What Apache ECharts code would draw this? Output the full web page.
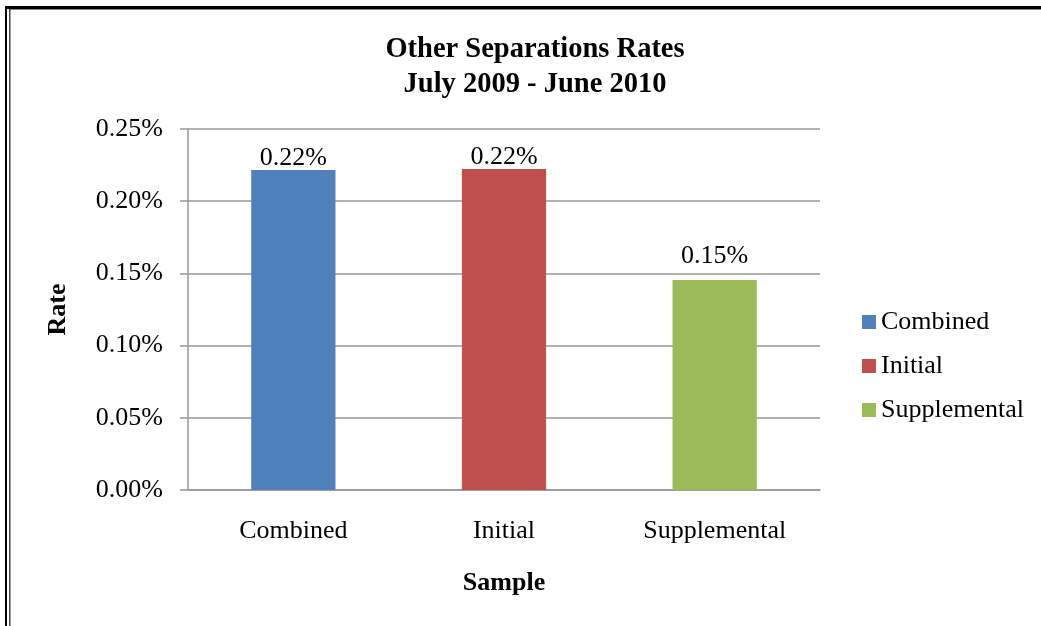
<!DOCTYPE html>
<html>
<head>
<meta charset="utf-8">
<title>Other Separations Rates</title>
<script src="https://cdn.jsdelivr.net/npm/echarts@6/dist/echarts.min.js"></script>
<style>
  html, body { margin: 0; padding: 0; background: #ffffff; }
  #chart { width: 1041px; height: 626px; }
</style>
</head>
<body>
<div id="chart"></div>
<script>
// Sample groups and their other-separations rates (percent)
const categories = ['Combined', 'Initial', 'Supplemental'];
const rates = [0.2216, 0.2223, 0.1455];
const barColors = ['#4F81BD', '#C0504D', '#9BBB59'];
const yTicks = { min: 0, max: 0.25, interval: 0.05 };

const FONT = '"Liberation Serif", "Times New Roman", serif';

// One series per sample, stacked so each bar sits centred in its own category
const series = categories.map((name, i) => ({
  name: name,
  type: 'bar',
  stack: 'rate',
  barWidth: '40%',
  itemStyle: { color: barColors[i] },
  data: categories.map((c, j) => (j === i ? {
    value: rates[i],
    label: { distance: rates[i] > 0.2 ? -1 : 11 }
  } : null)),
  label: {
    show: true,
    position: 'top',
    color: '#000',
    fontFamily: FONT,
    fontSize: 26,
    formatter: p => p.value.toFixed(2) + '%'
  }
}));

const chart = echarts.init(document.getElementById('chart'), null, { renderer: 'canvas' });
chart.setOption({
  backgroundColor: '#ffffff',
  animation: false,
  title: {
    text: 'Other Separations Rates\nJuly 2009 - June 2010',
    left: 535,
    top: 32,
    padding: 0,
    textAlign: 'center',
    textStyle: {
      fontFamily: FONT,
      fontWeight: 'bold',
      fontSize: 28.5,
      lineHeight: 35,
      color: '#000'
    }
  },
  legend: {
    orient: 'vertical',
    left: 862,
    top: 309,
    padding: 0,
    itemWidth: 14,
    itemHeight: 14,
    itemGap: 18,
    icon: 'rect',
    data: categories,
    textStyle: { fontFamily: FONT, fontSize: 26, color: '#000' }
  },
  grid: { left: 188, right: 221, top: 129, bottom: 136, containLabel: false },
  xAxis: {
    type: 'category',
    data: categories,
    name: 'Sample',
    nameLocation: 'middle',
    nameGap: 80,
    nameTextStyle: { fontFamily: FONT, fontWeight: 'bold', fontSize: 26, color: '#000' },
    axisLine: { lineStyle: { color: '#999', width: 1.5 } },
    axisTick: { show: false },
    axisLabel: { margin: 28, fontFamily: FONT, fontSize: 26, color: '#000' }
  },
  yAxis: {
    type: 'value',
    min: yTicks.min,
    max: yTicks.max,
    interval: yTicks.interval,
    name: 'Rate',
    nameLocation: 'middle',
    nameGap: 117,
    nameTextStyle: { fontFamily: FONT, fontWeight: 'bold', fontSize: 26, color: '#000' },
    axisLine: { show: true, lineStyle: { color: '#999', width: 1.5 } },
    axisTick: { show: true, length: 8, lineStyle: { color: '#999', width: 1.5 } },
    axisLabel: {
      margin: 25,
      fontFamily: FONT,
      fontSize: 26,
      color: '#000',
      formatter: v => v.toFixed(2) + '%'
    },
    splitLine: { lineStyle: { color: '#999', width: 1.5 } }
  },
  series: series,
  graphic: [
    // page frame: heavy outer rule on top and left, thin inner rule
    { type: 'rect', shape: { x: 5, y: 6, width: 1036, height: 3 }, style: { fill: '#000' }, silent: true },
    { type: 'rect', shape: { x: 5, y: 6, width: 2, height: 620 }, style: { fill: '#000' }, silent: true },
    { type: 'rect', shape: { x: 9, y: 9, width: 1032, height: 1 }, style: { fill: '#888' }, silent: true },
    { type: 'rect', shape: { x: 9, y: 9, width: 1.5, height: 617 }, style: { fill: '#444' }, silent: true }
  ]
});
</script>
</body>
</html>
